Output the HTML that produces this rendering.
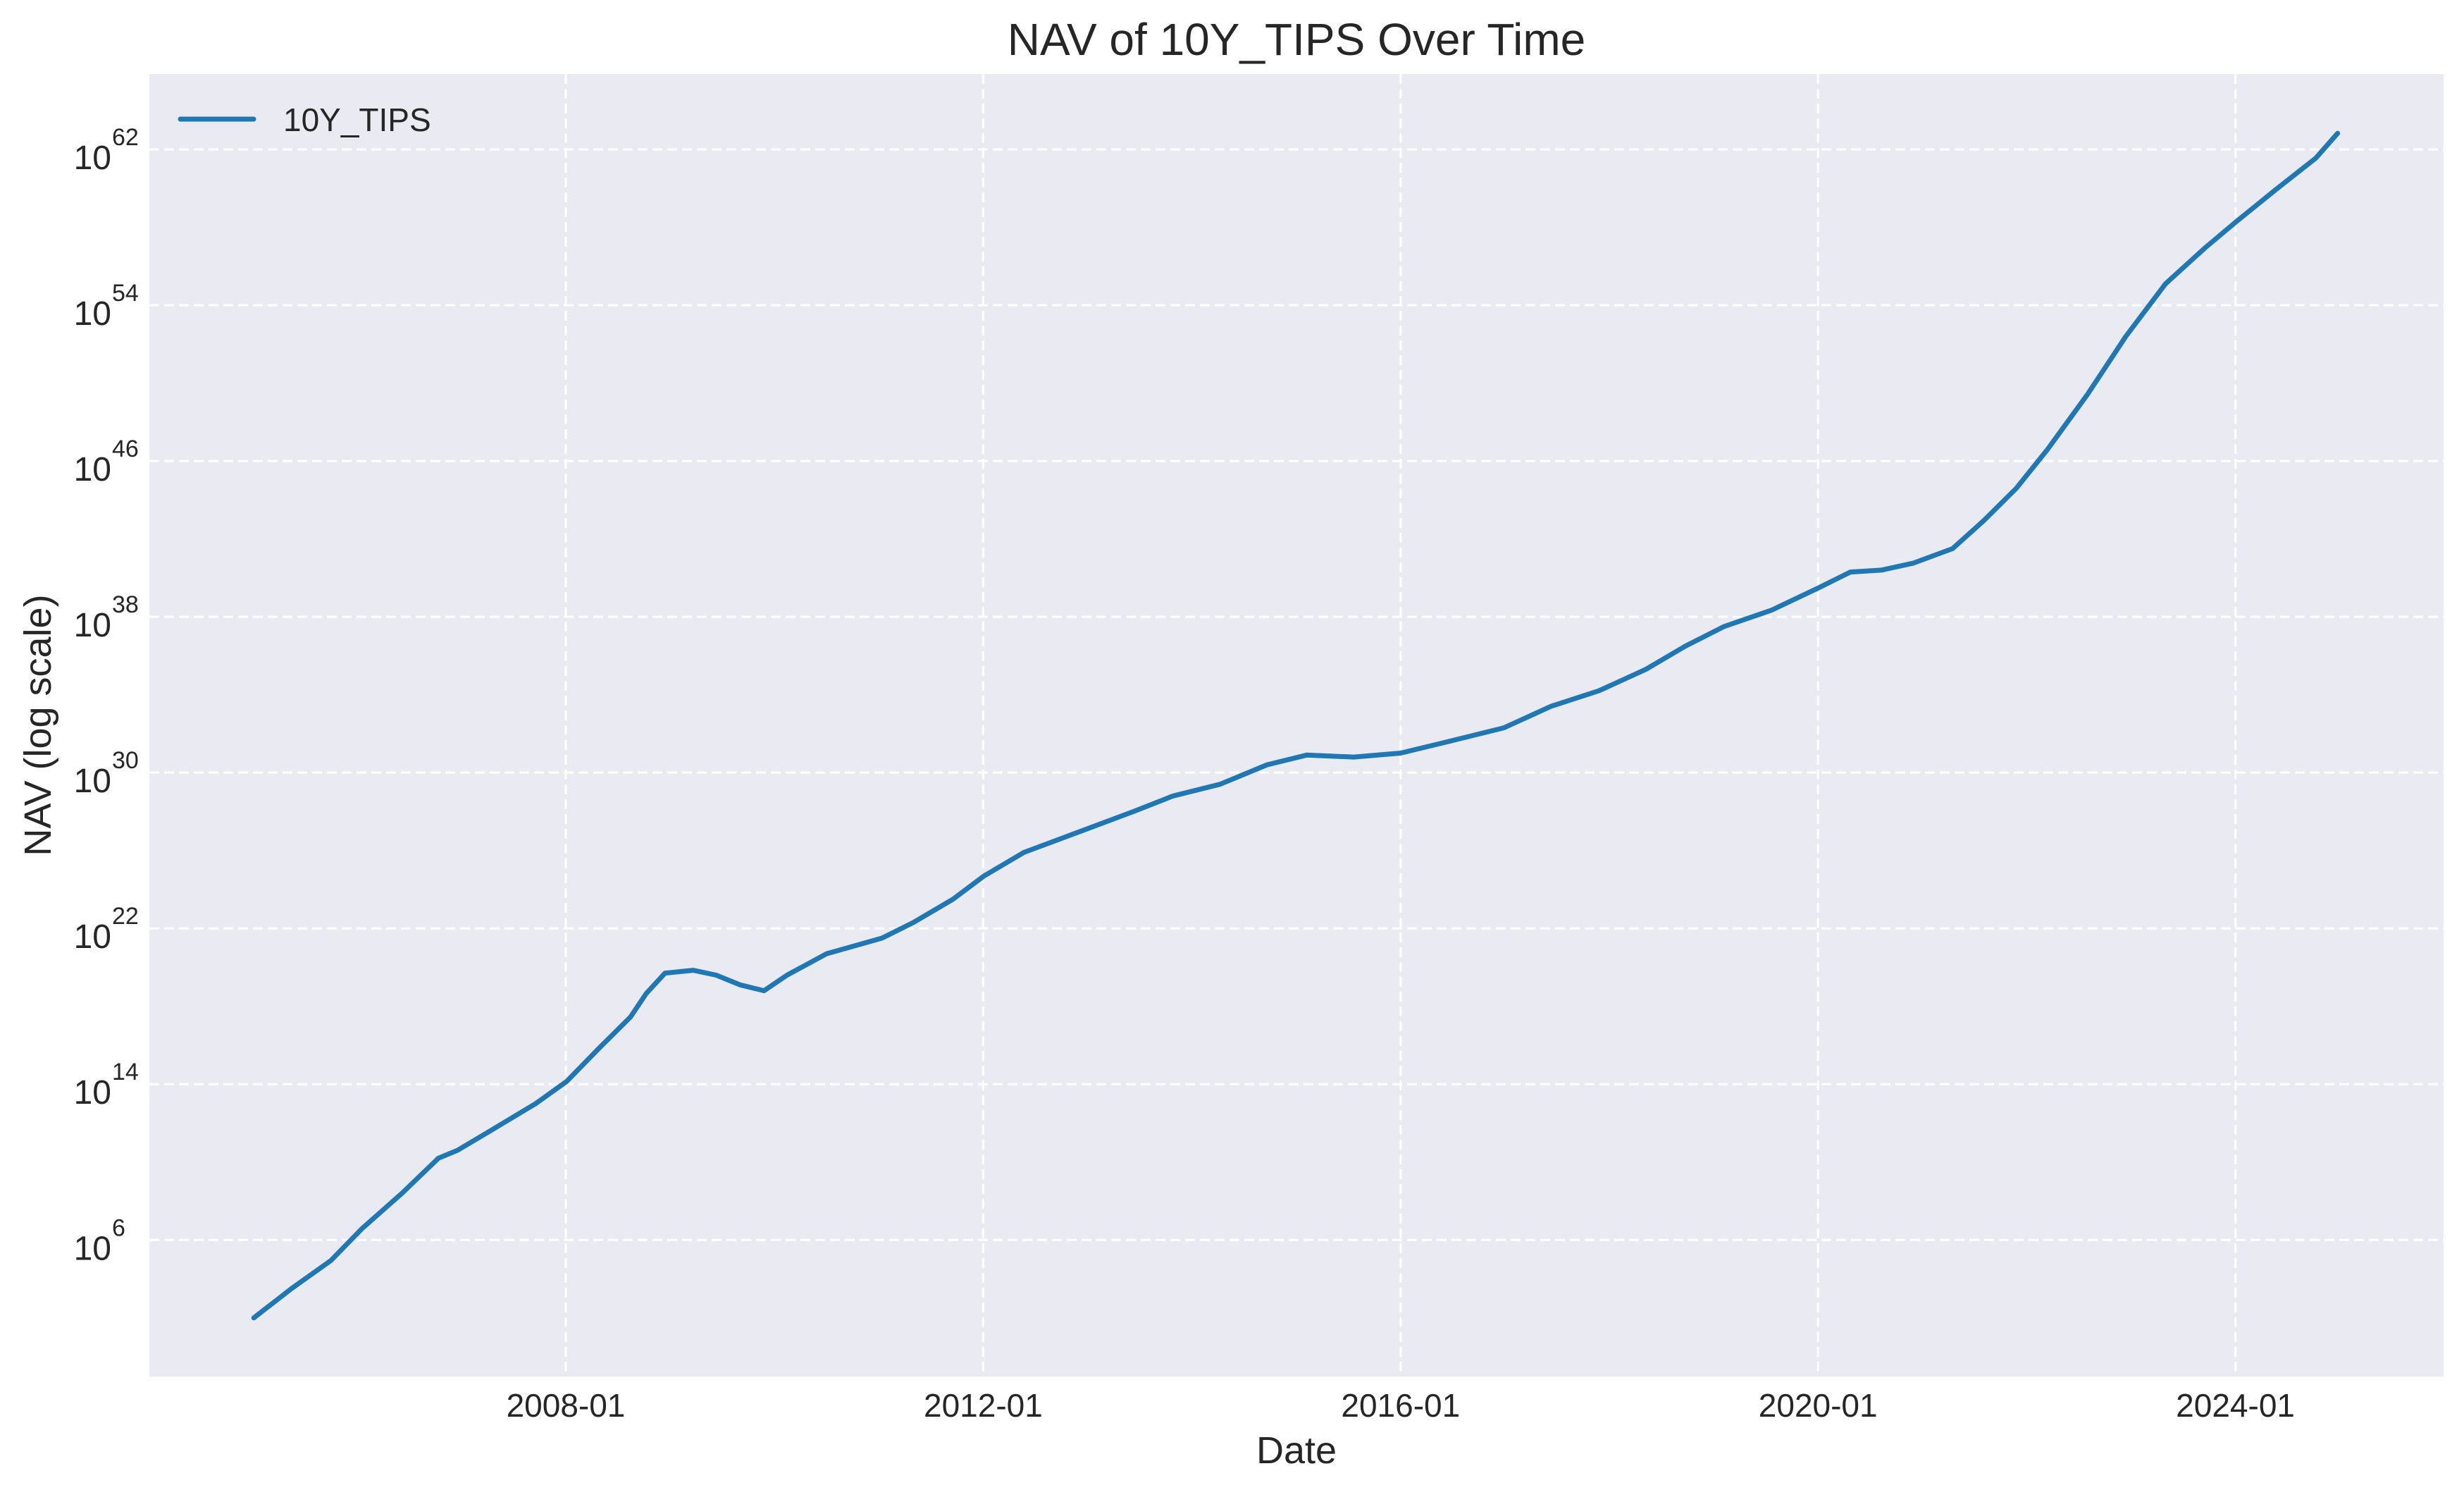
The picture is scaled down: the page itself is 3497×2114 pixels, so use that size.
<!DOCTYPE html>
<html><head><meta charset="utf-8"><style>
html,body{margin:0;padding:0;background:#fff;}
svg{display:block;font-family:"Liberation Sans",Arial,sans-serif;}
</style></head><body>
<svg id="chart" width="3497" height="2114" viewBox="0 0 3497 2114" xmlns="http://www.w3.org/2000/svg">
<rect width="3497" height="2114" fill="#ffffff"/>
<rect x="212" y="105" width="3256" height="1848" fill="#eaeaf2"/>
<g id="grid"></g>
<g id="ticks"></g>
<path id="series" fill="none" stroke="#1f77b4" stroke-width="7" stroke-linejoin="round" stroke-linecap="round"/>
<text x="1840" y="78" font-size="64" text-anchor="middle" fill="#262626">NAV of 10Y_TIPS Over Time</text>
<text x="1840" y="2076" font-size="54" text-anchor="middle" fill="#262626">Date</text>
<text transform="translate(72,1029) rotate(-90)" font-size="54" text-anchor="middle" fill="#262626">NAV (log scale)</text>
<g>
<line x1="256" y1="169" x2="360" y2="169" stroke="#1f77b4" stroke-width="7" stroke-linecap="round"/>
<text x="402" y="186" font-size="46" fill="#262626">10Y_TIPS</text>
</g>
</svg>
<script>
const years = [2005.01,2005.37,2005.75,2006.05,2006.43,2006.78,2006.96,2007.26,2007.71,2008.01,2008.31,2008.62,2008.77,2008.95,2009.22,2009.44,2009.67,2009.9,2010.12,2010.5,2011.03,2011.33,2011.71,2012.01,2012.39,2012.69,2012.99,2013.44,2013.82,2014.27,2014.72,2015.1,2015.55,2016.0,2016.46,2016.99,2017.44,2017.9,2018.35,2018.73,2019.1,2019.56,2020.01,2020.31,2020.61,2020.91,2021.29,2021.59,2021.9,2022.2,2022.58,2022.95,2023.33,2023.71,2024.01,2024.39,2024.77,2024.98];
const logNav = [2.0,3.5,4.95,6.6,8.4,10.2,10.6,11.55,13.0,14.15,15.8,17.45,18.65,19.7,19.85,19.6,19.1,18.8,19.6,20.7,21.5,22.3,23.5,24.7,25.9,26.5,27.1,28.0,28.8,29.4,30.4,30.9,30.8,31.0,31.6,32.3,33.4,34.2,35.3,36.5,37.5,38.35,39.5,40.3,40.4,40.75,41.5,42.95,44.6,46.6,49.4,52.4,55.1,56.95,58.3,59.95,61.55,62.83];
const yTickExps = [6,14,22,30,38,46,54,62];
const xTickYears = [2008,2012,2016,2020,2024];
const xTickLabels = ["2008-01","2012-01","2016-01","2020-01","2024-01"];

const NS = "http://www.w3.org/2000/svg";
const L=212,R=3468,T=105,B=1953;
function xs(yr){ return 803 + (yr-2008)*148.1; }
function ys(e){ return 212 + (62-e)*27.63; }
const grid=document.getElementById('grid'), ticks=document.getElementById('ticks');
yTickExps.forEach(e=>{
  const y=ys(e);
  const g=document.createElementNS(NS,'line');
  
  
  g.setAttribute('x1',L);g.setAttribute('x2',R);g.setAttribute('y1',y);g.setAttribute('y2',y);
  g.setAttribute('stroke','#ffffff');g.setAttribute('stroke-width','3');g.setAttribute('stroke-dasharray','14 7');
  grid.appendChild(g);
  const t=document.createElementNS(NS,'text');
  
  
  t.setAttribute('x',158);t.setAttribute('y',y+28);t.setAttribute('font-size','48');
  t.setAttribute('text-anchor','end');t.setAttribute('fill','#262626');
  t.textContent='10';
  ticks.appendChild(t);
  const s=document.createElementNS(NS,'text');
  
  
  s.setAttribute('x',159);s.setAttribute('y',y-6);s.setAttribute('font-size','34');
  s.setAttribute('fill','#262626');
  s.textContent=String(e);
  ticks.appendChild(s);
});
xTickYears.forEach((yr,i)=>{
  const x=xs(yr);
  const g=document.createElementNS(NS,'line');
  
  
  g.setAttribute('x1',x);g.setAttribute('x2',x);g.setAttribute('y1',T);g.setAttribute('y2',B);
  g.setAttribute('stroke','#ffffff');g.setAttribute('stroke-width','3');g.setAttribute('stroke-dasharray','14 7');
  grid.appendChild(g);
  const t=document.createElementNS(NS,'text');
  
  
  t.setAttribute('x',x);t.setAttribute('y',2010);t.setAttribute('font-size','46');
  t.setAttribute('text-anchor','middle');t.setAttribute('fill','#262626');
  t.textContent=xTickLabels[i];
  ticks.appendChild(t);
});
let d='';
years.forEach((yr,i)=>{ d+=(i?'L':'M')+xs(yr).toFixed(1)+','+ys(logNav[i]).toFixed(1); });
document.getElementById('series').setAttribute('d',d);
</script>
</body></html>
